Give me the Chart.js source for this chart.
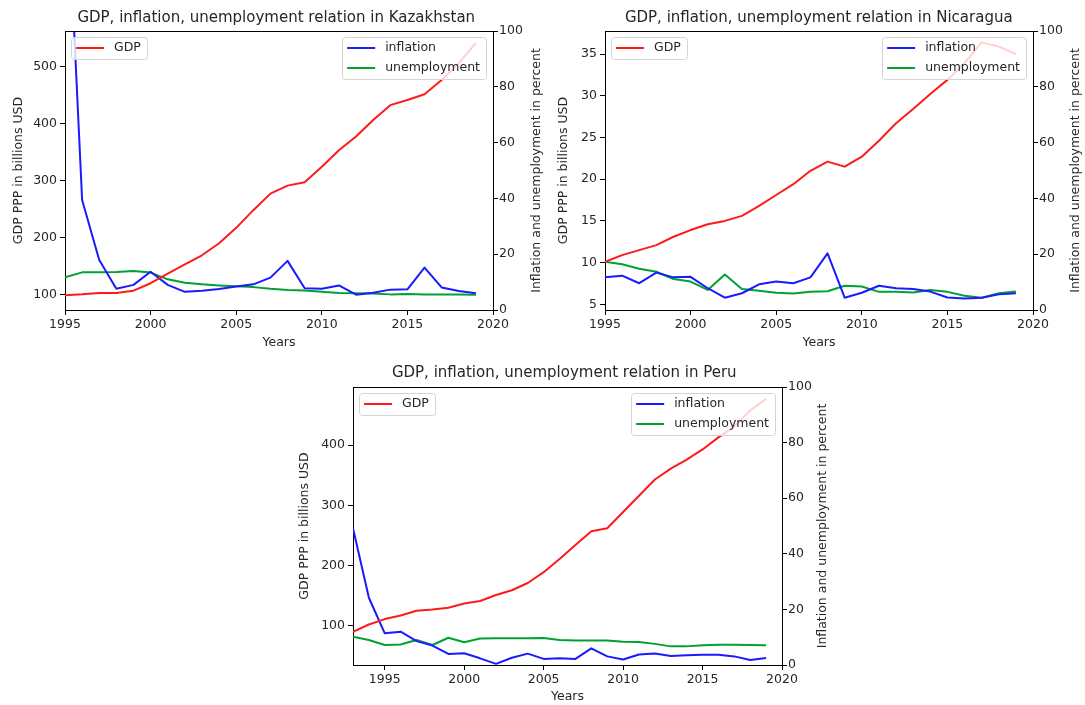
<!DOCTYPE html>
<html>
<head>
<meta charset="utf-8">
<script src="https://cdn.jsdelivr.net/npm/chart.js@4.4.1/dist/chart.umd.min.js"></script>
<style>
  body { margin: 0; background: #fff; }
  .box { position: absolute; }
</style>
</head>
<body>
<div class="box" style="left:0;top:0;width:545px;height:356px"><canvas id="kz"></canvas></div>
<div class="box" style="left:545px;top:0;width:540px;height:356px"><canvas id="ni"></canvas></div>
<div class="box" style="left:290px;top:356px;width:545px;height:349px"><canvas id="pe"></canvas></div>
<script>
// years
const years95 = [1995, 1996, 1997, 1998, 1999, 2000, 2001, 2002, 2003, 2004, 2005, 2006, 2007,
  2008, 2009, 2010, 2011, 2012, 2013, 2014, 2015, 2016, 2017, 2018, 2019];
const years93 = [1993, 1994, 1995, 1996, 1997, 1998, 1999, 2000, 2001, 2002, 2003, 2004, 2005, 2006,
  2007, 2008, 2009, 2010, 2011, 2012, 2013, 2014, 2015, 2016, 2017, 2018, 2019];

// Kazakhstan
const kzGdp = [99, 100.5, 103, 103, 107, 120, 137, 153, 169, 190, 217, 248, 277, 291, 297, 324, 353, 377, 406, 432, 441, 451, 476, 505, 541];
const kzInflation = [170, 39.4, 17.9, 7.6, 9.0, 13.7, 9.0, 6.5, 6.9, 7.5, 8.4, 9.2, 11.6, 17.6, 7.8, 7.6, 8.8, 5.5, 6.2, 7.3, 7.4, 15.2, 8.1, 6.8, 6.0];
const kzUnemployment = [11.7, 13.5, 13.5, 13.6, 14.0, 13.4, 11.0, 9.8, 9.2, 8.8, 8.5, 8.2, 7.6, 7.2, 7.0, 6.5, 6.1, 6.0, 5.9, 5.6, 5.7, 5.6, 5.6, 5.6, 5.5];

// Nicaragua
const niGdp = [10.1, 10.9, 11.5, 12.1, 13.1, 13.9, 14.6, 15.0, 15.6, 16.8, 18.1, 19.4, 21.0, 22.1, 21.5, 22.7, 24.6, 26.7, 28.4, 30.2, 31.9, 33.9, 36.4, 35.9, 35.0];
const niInflation = [11.7, 12.3, 9.6, 13.4, 11.7, 11.9, 7.8, 4.4, 6.0, 9.2, 10.2, 9.6, 11.7, 20.3, 4.4, 6.2, 8.7, 7.8, 7.5, 6.6, 4.5, 4.1, 4.4, 5.6, 6.0];
const niUnemployment = [17.3, 16.4, 14.8, 13.7, 11.1, 10.2, 7.2, 12.7, 7.5, 6.9, 6.2, 5.9, 6.5, 6.7, 8.7, 8.4, 6.5, 6.5, 6.3, 7.2, 6.5, 5.1, 4.4, 6.0, 6.6];

// Peru
const peGdp = [90, 102, 111, 117, 125, 127, 130, 137, 141, 151, 159, 171, 189, 211, 234, 257, 262, 289, 316, 343, 361, 376, 393, 413, 431, 458, 477];
const peInflation = [49.2, 24.2, 11.4, 12.0, 8.6, 7.0, 4.0, 4.2, 2.4, 0.4, 2.6, 4.1, 2.2, 2.4, 2.2, 6.0, 3.1, 2.0, 3.8, 4.1, 3.2, 3.5, 3.7, 3.7, 3.1, 1.8, 2.5];
const peUnemployment = [10.2, 9.0, 7.2, 7.4, 9.0, 7.2, 9.8, 8.2, 9.5, 9.6, 9.6, 9.6, 9.7, 9.0, 8.8, 8.8, 8.8, 8.4, 8.3, 7.6, 6.7, 6.7, 7.1, 7.3, 7.3, 7.2, 7.1];

// tick labels
const yearTicks = [1995, 2000, 2005, 2010, 2015, 2020];
const pctTicks = [0, 20, 40, 60, 80, 100];
const kzGdpTicks = [100, 200, 300, 400, 500];
const niGdpTicks = [5, 10, 15, 20, 25, 30, 35];
const peGdpTicks = [100, 200, 300, 400];

const textColor = '#262626';
Chart.defaults.font.family = '"DejaVu Sans", sans-serif';
Chart.defaults.color = textColor;

const pts = (xs, ys) => xs.map((x, i) => ({ x: x, y: ys[i] }));

function drawLegend(chart, items, side) {
  const ctx = chart.ctx, a = chart.chartArea;
  ctx.save();
  ctx.font = '12.5px "DejaVu Sans"';
  const tw = Math.max(...items.map(i => ctx.measureText(chart.data.datasets[i].label).width));
  const w = 5 + 28 + 10 + tw + 6;
  const h = items.length * 20 + 2;
  const x = side === 'left' ? a.left + 6 : a.right - 7 - w;
  const y = a.top + 6;
  ctx.fillStyle = 'rgba(255,255,255,0.8)';
  ctx.strokeStyle = '#d4d4d4';
  ctx.lineWidth = 1;
  ctx.beginPath();
  ctx.roundRect(Math.round(x) + 0.5, y + 0.5, Math.round(w), h, 3);
  ctx.fill();
  ctx.stroke();
  items.forEach((i, k) => {
    const ds = chart.data.datasets[i];
    const cy = y + 11 + k * 20;
    ctx.strokeStyle = ds.borderColor;
    ctx.lineWidth = 2;
    ctx.beginPath();
    ctx.moveTo(x + 5, cy);
    ctx.lineTo(x + 33, cy);
    ctx.stroke();
    ctx.fillStyle = textColor;
    ctx.textBaseline = 'middle';
    ctx.textAlign = 'left';
    ctx.fillText(ds.label, x + 43, cy);
  });
  ctx.restore();
}

const extras = {
  id: 'extras',
  afterDatasetsDraw(chart) {
    drawLegend(chart, [0], 'left');
    drawLegend(chart, [1, 2], 'right');
  },
  afterDraw(chart, args, opts) {
    const ctx = chart.ctx, a = chart.chartArea;
    ctx.save();
    // top spine
    ctx.strokeStyle = '#000';
    ctx.lineWidth = 1;
    ctx.beginPath();
    ctx.moveTo(a.left, Math.round(a.top) + 0.5);
    ctx.lineTo(a.right, Math.round(a.top) + 0.5);
    ctx.stroke();
    // right axis title, reading bottom to top
    ctx.translate(opts.rightTitleX, (a.top + a.bottom) / 2);
    ctx.rotate(-Math.PI / 2);
    ctx.font = '12.5px "DejaVu Sans"';
    ctx.fillStyle = textColor;
    ctx.textAlign = 'center';
    ctx.textBaseline = 'middle';
    ctx.fillText('Inflation and unemployment in percent', 0, 0);
    ctx.restore();
  }
};

function makeChart(id, country, years, gdp, infl, unemp, cfg) {
  const tickFont = { size: 12.5 };
  return new Chart(document.getElementById(id), {
    type: 'line',
    data: {
      datasets: [
        { label: 'GDP', data: pts(years, gdp), borderColor: '#ff1a1a', yAxisID: 'y' },
        { label: 'inflation', data: pts(years, infl), borderColor: '#1a1aff', yAxisID: 'y1' },
        { label: 'unemployment', data: pts(years, unemp), borderColor: '#00a033', yAxisID: 'y1' }
      ]
    },
    options: {
      responsive: true,
      maintainAspectRatio: false,
      animation: false,
      devicePixelRatio: 1,
      layout: { padding: { left: cfg.padLeft, right: 0, top: 0, bottom: 0 } },
      elements: {
        line: { borderWidth: 2, tension: 0, borderJoinStyle: 'round' },
        point: { radius: 0, hoverRadius: 0 }
      },
      plugins: {
        legend: { display: false },
        tooltip: { enabled: false },
        title: {
          display: true,
          text: 'GDP, inflation, unemployment relation in ' + country,
          font: { size: 15, weight: 'normal' },
          color: textColor,
          padding: { top: cfg.titleTop, bottom: cfg.titleBottom }
        },
        extras: { rightTitleX: cfg.rightTitleX }
      },
      scales: {
        x: {
          type: 'linear',
          min: cfg.xMin,
          max: 2020,
          afterBuildTicks: s => { s.ticks = yearTicks.map(v => ({ value: v })); },
          afterFit: s => { s.height = cfg.xHeight; },
          ticks: { font: tickFont, padding: 2, maxRotation: 0, autoSkip: false, callback: v => String(v) },
          grid: { drawOnChartArea: false, tickLength: 5, color: '#000' },
          border: { color: '#000' },
          title: { display: true, text: 'Years', font: tickFont, padding: { top: 0, bottom: cfg.yearsPad } }
        },
        y: {
          position: 'left',
          min: cfg.gdpMin,
          max: cfg.gdpMax,
          afterBuildTicks: s => { s.ticks = cfg.gdpTicks.map(v => ({ value: v })); },
          afterFit: s => { s.width = cfg.leftWidth; },
          ticks: { font: tickFont, padding: 3 },
          grid: { drawOnChartArea: false, tickLength: 5, color: '#000' },
          border: { color: '#000' },
          title: { display: true, text: 'GDP PPP in billions USD', font: tickFont, padding: { top: 4, bottom: 0 } }
        },
        y1: {
          position: 'right',
          min: 0,
          max: 100,
          afterBuildTicks: s => { s.ticks = pctTicks.map(v => ({ value: v })); },
          afterFit: s => { s.width = cfg.rightWidth; },
          ticks: { font: tickFont, padding: 1 },
          grid: { drawOnChartArea: false, tickLength: 5, color: '#000' },
          border: { color: '#000' }
        }
      }
    },
    plugins: [extras]
  });
}

makeChart('kz', 'Kazakhstan', years95, kzGdp, kzInflation, kzUnemployment, {
  xMin: 1995, gdpMin: 73.1, gdpMax: 561.9, gdpTicks: kzGdpTicks,
  padLeft: 7.5, leftWidth: 57.5, rightWidth: 52, rightTitleX: 537,
  titleTop: 9, titleBottom: 4, xHeight: 46, yearsPad: 5.5
});
makeChart('ni', 'Nicaragua', years95, niGdp, niInflation, niUnemployment, {
  xMin: 1995, gdpMin: 4.32, gdpMax: 37.76, gdpTicks: niGdpTicks,
  padLeft: 7.5, leftWidth: 52.5, rightWidth: 52, rightTitleX: 531,
  titleTop: 9, titleBottom: 4, xHeight: 46, yearsPad: 5.5
});
makeChart('pe', 'Peru', years93, peGdp, peInflation, peUnemployment, {
  xMin: 1993, gdpMin: 34.7, gdpMax: 496.8, gdpTicks: peGdpTicks,
  padLeft: 3.5, leftWidth: 59.5, rightWidth: 53, rightTitleX: 533,
  titleTop: 8, titleBottom: 5, xHeight: 40, yearsPad: 0.5
});
</script>
</body>
</html>
